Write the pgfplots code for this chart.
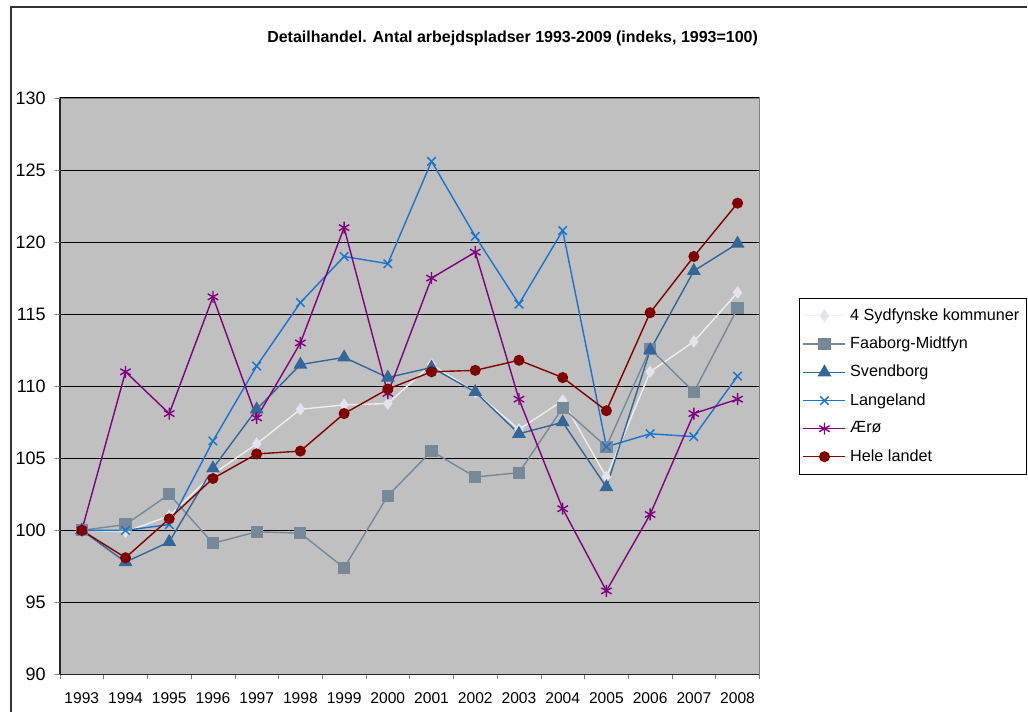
\documentclass[border=0pt]{standalone}
\usepackage{pgfplots}
\pgfplotsset{compat=1.18}
\usepackage{fontspec}
\setmainfont{Liberation Sans}
\usetikzlibrary{plotmarks}

\definecolor{bggray}{HTML}{C0C0C0}
\definecolor{sydfyn}{HTML}{EEEEF2}
\definecolor{sydfynmark}{HTML}{E4E4EC}
\definecolor{faaborg}{HTML}{778899}
\definecolor{svendborg}{HTML}{336699}
\definecolor{langeland}{HTML}{1874CD}
\definecolor{aero}{HTML}{800080}
\definecolor{hele}{HTML}{800000}

\begin{document}
\begin{tikzpicture}
% page: 1028 x 713 px at 0.5pt per px
\path (0,0) rectangle (514pt,356.5pt);
% cropped outer chart frame
\draw[line width=0.8pt, black!80] (5.5pt,0) -- (5.5pt,353pt) -- (514pt,353pt);
\node[font=\bfseries\fontsize{8}{9}\selectfont] at (256.5pt,337.5pt)
  {Detailhandel. Antal arbejdspladser 1993-2009 (indeks, 1993=100)};

\begin{axis}[
    at={(30pt,19pt)}, anchor=south west,
    scale only axis,
    width=350pt, height=288.5pt,
    xmin=-0.5, xmax=15.5,
    ymin=90, ymax=130,
    xtick={0,...,15},
    xticklabels={1993,1994,1995,1996,1997,1998,1999,2000,2001,2002,2003,2004,2005,2006,2007,2008},
    minor xtick={-0.5,0.5,...,15.5},
    ytick={90,95,...,130},
    major tick length=0pt,
    minor tick length=2.5pt,
    tick align=outside,
    xtick pos=bottom, ytick pos=left,
    extra y ticks={90,95,...,130},
    extra y tick labels={},
    extra y tick style={major tick length=2.5pt, grid=none},
    ymajorgrids=true,
    grid style={black, line width=0.5pt},
    axis x line*=bottom, axis y line*=left,
    axis line style={black!85, line width=0.8pt},
    axis background/.style={fill=bggray, draw=gray, line width=0.8pt},
    /pgf/number format/assume math mode=true,
    yticklabel style={font=\fontsize{9}{10}\selectfont, inner sep=0pt, xshift=-7pt},
    xticklabel style={font=\fontsize{7.8}{9}\selectfont, inner sep=0pt, yshift=-9pt},
    every axis plot/.append style={line width=0.7pt},
    legend style={at={(1.057,0.5)}, anchor=west, draw=black, line width=0.5pt,
        font=\fontsize{8.1}{9}\selectfont, row sep=2.8pt, inner xsep=1.5pt, inner ysep=3pt,
        legend cell align=left},
    legend image code/.code={
        \draw[mark repeat=2,mark phase=2] plot coordinates {(0pt,0pt) (10.5pt,0pt) (21pt,0pt)};
    },
]
\addplot[color=sydfyn, mark=diamond*, mark size=2.6pt,
    mark options={fill=sydfynmark, draw=sydfynmark}] coordinates {
    (0,100) (1,99.9) (2,101.0) (3,103.9) (4,106.0) (5,108.4) (6,108.7) (7,108.8)
    (8,111.5) (9,109.6) (10,107.0) (11,109.0) (12,103.7) (13,111.0) (14,113.1) (15,116.5)
};
\addlegendentry{4 Sydfynske kommuner}
\addplot[color=faaborg, mark=square*, mark size=2.7pt,
    mark options={fill=faaborg}] coordinates {
    (0,100) (1,100.4) (2,102.5) (3,99.1) (4,99.9) (5,99.8) (6,97.4) (7,102.4)
    (8,105.5) (9,103.7) (10,104.0) (11,108.5) (12,105.8) (13,112.6) (14,109.6) (15,115.4)
};
\addlegendentry{Faaborg-Midtfyn}
\addplot[color=svendborg, mark=triangle*, mark size=3.3pt,
    mark options={fill=svendborg}] coordinates {
    (0,100) (1,97.8) (2,99.2) (3,104.3) (4,108.4) (5,111.5) (6,112.0) (7,110.6)
    (8,111.3) (9,109.6) (10,106.7) (11,107.5) (12,103.0) (13,112.5) (14,118.0) (15,119.9)
};
\addlegendentry{Svendborg}
\addplot[color=langeland, mark=x, mark size=3pt] coordinates {
    (0,100) (1,100.0) (2,100.4) (3,106.2) (4,111.4) (5,115.8) (6,119.0) (7,118.5)
    (8,125.6) (9,120.4) (10,115.7) (11,120.8) (12,105.8) (13,106.7) (14,106.5) (15,110.7)
};
\addlegendentry{Langeland}
\addplot[color=aero, mark=asterisk, mark size=3pt] coordinates {
    (0,100) (1,111.0) (2,108.1) (3,116.2) (4,107.8) (5,113.0) (6,121.0) (7,109.5)
    (8,117.5) (9,119.3) (10,109.1) (11,101.5) (12,95.8) (13,101.1) (14,108.1) (15,109.1)
};
\addlegendentry{Ærø}
\addplot[color=hele, mark=*, mark size=2.4pt, mark options={fill=hele}] coordinates {
    (0,100) (1,98.1) (2,100.8) (3,103.6) (4,105.3) (5,105.5) (6,108.1) (7,109.8)
    (8,111.0) (9,111.1) (10,111.8) (11,110.6) (12,108.3) (13,115.1) (14,119.0) (15,122.7)
};
\addlegendentry{Hele landet}
\end{axis}
\end{tikzpicture}
\end{document}
